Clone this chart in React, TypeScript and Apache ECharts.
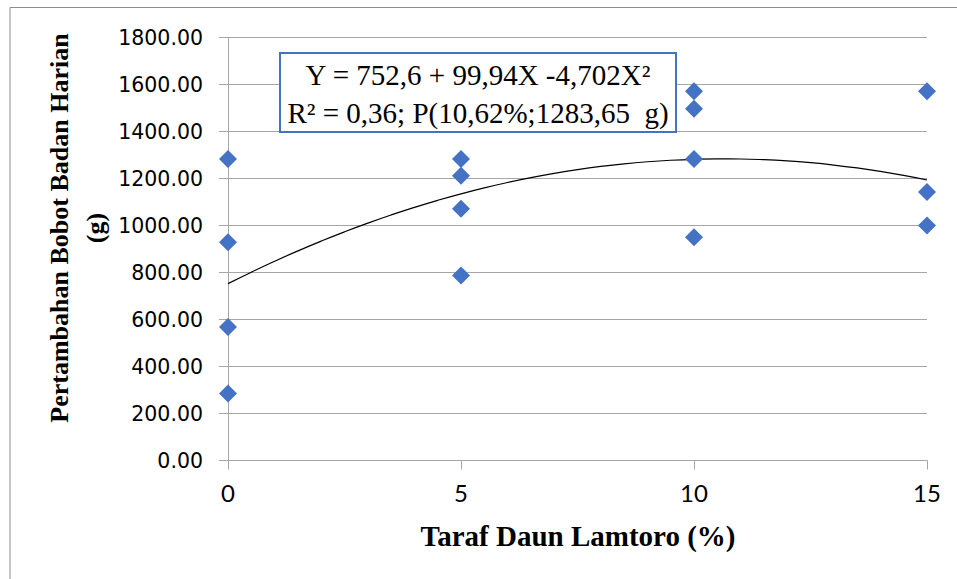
import React, { useEffect, useRef } from "react";
import * as echarts from "echarts";

// Observed data (Taraf Daun Lamtoro %, Pertambahan Bobot Badan Harian g)
const xLevels = [0, 0, 0, 0, 5, 5, 5, 5, 10, 10, 10, 10, 15, 15, 15];
const gainValues = [1283, 929, 568, 285, 1283, 1212, 1071, 787, 1571, 1497, 1283, 950, 1571, 1143, 1000];

// Quadratic trend line coefficients shown in the chart: Y = a + bX + cX^2
const trendCoef = [752.6, 99.94, -4.702];
const trendX = [0, 0.5, 1, 1.5, 2, 2.5, 3, 3.5, 4, 4.5, 5, 5.5, 6, 6.5, 7, 7.5, 8, 8.5, 9, 9.5, 10, 10.5, 11, 11.5, 12, 12.5, 13, 13.5, 14, 14.5, 15];

const xTicks = [0, 5, 10, 15];
const yTickMax = 1800;
const yTickStep = 200;

const eqLine1 = "Y = 752,6 + 99,94X -4,702X²";
const eqLine2 = "R² = 0,36; P(10,62%;1283,65  g)";
const xTitle = "Taraf Daun Lamtoro (%)";
const yTitle = "Pertambahan Bobot Badan Harian\n(g)";

export default function App() {
  const ref = useRef<HTMLDivElement>(null);
  useEffect(() => {
    if (!ref.current) return;
    const chart = echarts.init(ref.current, null, { renderer: "svg" });
    const scatterData = xLevels.map((x, i) => [x, gainValues[i]]);
    const trendData = trendX.map((x) => [x, trendCoef[0] + trendCoef[1] * x + trendCoef[2] * x * x]);
    const gray = "#A6A6A6";
    chart.setOption({
      animation: false,
      backgroundColor: "#ffffff",
      grid: { left: 228, right: 30, top: 37.5, bottom: 118.5, containLabel: false },
      xAxis: {
        type: "value",
        min: xTicks[0],
        max: xTicks[xTicks.length - 1],
        interval: 5,
        axisLine: { show: true, lineStyle: { color: gray, width: 1 } },
        axisTick: { show: true, length: 9, lineStyle: { color: gray } },
        splitLine: { show: false },
        axisLabel: { color: "#000", fontFamily: "Lato", fontSize: 24, margin: 20 },
      },
      yAxis: {
        type: "value",
        min: 0,
        max: yTickMax,
        interval: yTickStep,
        axisLine: { show: true, lineStyle: { color: gray, width: 1 } },
        axisTick: { show: true, length: 9, lineStyle: { color: gray } },
        splitLine: { show: true, lineStyle: { color: gray, width: 1 } },
        axisLabel: {
          color: "#000",
          fontFamily: "DejaVu Sans",
          fontSize: 20.5,
          margin: 25,
          formatter: (v: number) => v.toFixed(2),
        },
      },
      series: [
        {
          type: "line",
          data: trendData,
          showSymbol: false,
          smooth: true,
          lineStyle: { color: "#000", width: 1.2 },
          silent: true,
          z: 2,
        },
        {
          type: "scatter",
          data: scatterData,
          symbol: "diamond",
          symbolSize: 18,
          itemStyle: { color: "#4472C4", opacity: 1 },
          clip: false,
          z: 3,
        },
      ],
      graphic: [
        {
          type: "rect",
          shape: { x: 10, y: 7.5, width: 1200, height: 1200 },
          style: { fill: "none", stroke: "#8c8c8c", lineWidth: 1 },
          silent: true,
          z: -1,
        },
        {
          type: "rect",
          shape: { x: 280, y: 53, width: 396, height: 79 },
          style: { fill: "#ffffff", stroke: "#4472C4", lineWidth: 2 },
          z: 10,
        },
        {
          type: "text",
          x: 478,
          y: 75,
          style: {
            text: eqLine1,
            fontFamily: "Liberation Serif",
            fontSize: 29,
            fill: "#000",
            align: "center",
            verticalAlign: "middle",
          },
          z: 11,
        },
        {
          type: "text",
          x: 478,
          y: 113,
          style: {
            text: eqLine2,
            fontFamily: "Liberation Serif",
            fontSize: 29,
            fill: "#000",
            align: "center",
            verticalAlign: "middle",
          },
          z: 11,
        },
        {
          type: "text",
          x: 578,
          y: 536,
          style: {
            text: xTitle,
            fontFamily: "Liberation Serif",
            fontWeight: "bold",
            fontSize: 29,
            fill: "#000",
            align: "center",
            verticalAlign: "middle",
          },
        },
        {
          type: "text",
          x: 77,
          y: 228,
          rotation: Math.PI / 2,
          style: {
            text: yTitle,
            fontFamily: "Liberation Serif",
            fontWeight: "bold",
            fontSize: 26,
            lineHeight: 36,
            fill: "#000",
            align: "center",
            verticalAlign: "middle",
          },
        },
      ],
    });
    return () => chart.dispose();
  }, []);
  return (
    <div
      ref={ref}
      style={{ position: "absolute", left: 0, top: 0, width: 957, height: 579, background: "#fff" }}
    />
  );
}
